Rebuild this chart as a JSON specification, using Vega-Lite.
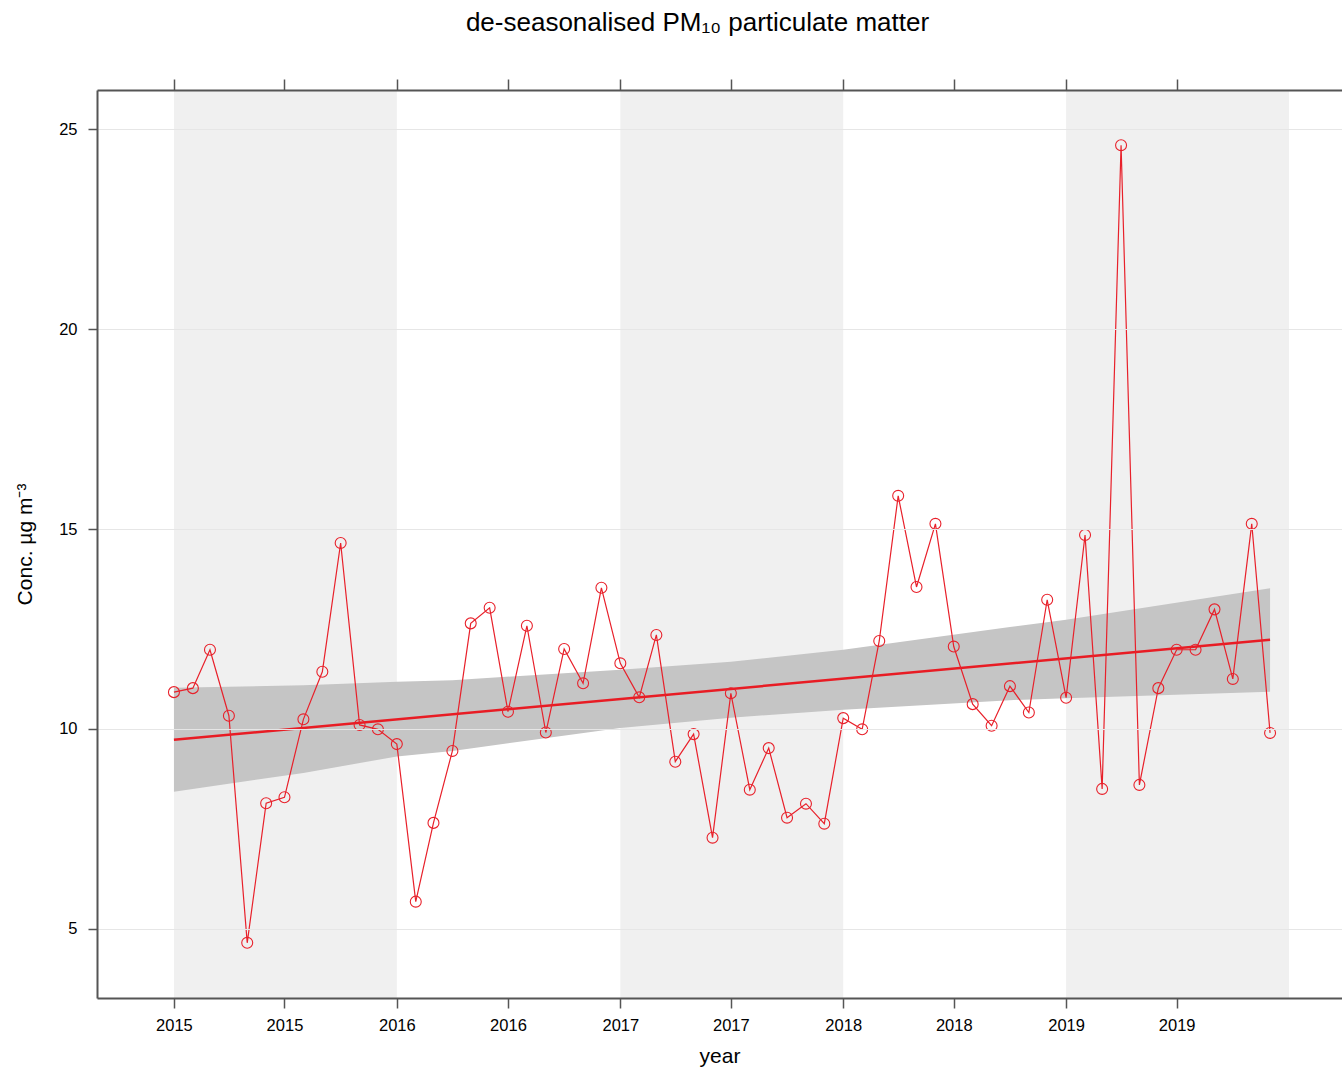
{
  "$schema": "https://vega.github.io/schema/vega-lite/v6.json",
  "width": 1245,
  "height": 908,
  "autosize": {"type": "none"},
  "padding": {"left": 97, "top": 90, "right": 0, "bottom": 74},
  "background": "white",
  "title": {
    "text": "de-seasonalised PM₁₀ particulate matter",
    "fontSize": 26,
    "fontWeight": "normal",
    "color": "#000000",
    "anchor": "middle",
    "dx": -22,
    "offset": 42
  },
  "config": {
    "font": "Liberation Sans",
    "view": {"stroke": null}
  },
  "datasets": {
    "bands": [
      {"start": "2015-01-01", "end": "2016-01-01"},
      {"start": "2017-01-01", "end": "2018-01-01"},
      {"start": "2019-01-01", "end": "2020-01-01"}
    ],
    "ci": [
      {"date": "2015-01-01", "upper": 11.03, "lower": 8.43},
      {"date": "2015-08-01", "upper": 11.09, "lower": 8.9},
      {"date": "2016-01-01", "upper": 11.18, "lower": 9.31},
      {"date": "2016-04-01", "upper": 11.22, "lower": 9.45},
      {"date": "2017-01-01", "upper": 11.48, "lower": 10.02},
      {"date": "2017-07-01", "upper": 11.68, "lower": 10.28},
      {"date": "2018-01-01", "upper": 11.98, "lower": 10.48},
      {"date": "2018-10-01", "upper": 12.55, "lower": 10.72},
      {"date": "2019-01-01", "upper": 12.73, "lower": 10.77},
      {"date": "2019-12-01", "upper": 13.52, "lower": 10.93}
    ],
    "trend": [
      {"date": "2015-01-01", "trend": 9.73},
      {"date": "2019-12-01", "trend": 12.23}
    ],
    "obs": [
      {"date": "2015-01-01", "conc": 10.92},
      {"date": "2015-02-01", "conc": 11.02},
      {"date": "2015-03-01", "conc": 11.98},
      {"date": "2015-04-01", "conc": 10.33},
      {"date": "2015-05-01", "conc": 4.65},
      {"date": "2015-06-01", "conc": 8.14},
      {"date": "2015-07-01", "conc": 8.29},
      {"date": "2015-08-01", "conc": 10.24},
      {"date": "2015-09-01", "conc": 11.43},
      {"date": "2015-10-01", "conc": 14.65},
      {"date": "2015-11-01", "conc": 10.1},
      {"date": "2015-12-01", "conc": 9.99},
      {"date": "2016-01-01", "conc": 9.62},
      {"date": "2016-02-01", "conc": 5.68},
      {"date": "2016-03-01", "conc": 7.65},
      {"date": "2016-04-01", "conc": 9.45},
      {"date": "2016-05-01", "conc": 12.64},
      {"date": "2016-06-01", "conc": 13.03},
      {"date": "2016-07-01", "conc": 10.43},
      {"date": "2016-08-01", "conc": 12.58},
      {"date": "2016-09-01", "conc": 9.91},
      {"date": "2016-10-01", "conc": 12.0},
      {"date": "2016-11-01", "conc": 11.14},
      {"date": "2016-12-01", "conc": 13.53},
      {"date": "2017-01-01", "conc": 11.64},
      {"date": "2017-02-01", "conc": 10.79},
      {"date": "2017-03-01", "conc": 12.35},
      {"date": "2017-04-01", "conc": 9.18},
      {"date": "2017-05-01", "conc": 9.87},
      {"date": "2017-06-01", "conc": 7.28},
      {"date": "2017-07-01", "conc": 10.89},
      {"date": "2017-08-01", "conc": 8.48},
      {"date": "2017-09-01", "conc": 9.52},
      {"date": "2017-10-01", "conc": 7.78},
      {"date": "2017-11-01", "conc": 8.13},
      {"date": "2017-12-01", "conc": 7.63},
      {"date": "2018-01-01", "conc": 10.27},
      {"date": "2018-02-01", "conc": 9.99},
      {"date": "2018-03-01", "conc": 12.2},
      {"date": "2018-04-01", "conc": 15.83},
      {"date": "2018-05-01", "conc": 13.55},
      {"date": "2018-06-01", "conc": 15.13},
      {"date": "2018-07-01", "conc": 12.06},
      {"date": "2018-08-01", "conc": 10.62},
      {"date": "2018-09-01", "conc": 10.08},
      {"date": "2018-10-01", "conc": 11.07},
      {"date": "2018-11-01", "conc": 10.41},
      {"date": "2018-12-01", "conc": 13.23},
      {"date": "2019-01-01", "conc": 10.78},
      {"date": "2019-02-01", "conc": 14.85},
      {"date": "2019-03-01", "conc": 8.5},
      {"date": "2019-04-01", "conc": 24.6},
      {"date": "2019-05-01", "conc": 8.6},
      {"date": "2019-06-01", "conc": 11.02},
      {"date": "2019-07-01", "conc": 11.98},
      {"date": "2019-08-01", "conc": 11.98},
      {"date": "2019-09-01", "conc": 12.99},
      {"date": "2019-10-01", "conc": 11.25},
      {"date": "2019-11-01", "conc": 15.13},
      {"date": "2019-12-01", "conc": 9.9}
    ]
  },
  "resolve": {"axis": {"y": "independent"}},
  "layer": [
    {
      "data": {"name": "bands"},
      "mark": {"type": "rect", "color": "#f0f0f0"},
      "encoding": {
        "x": {
          "field": "start",
          "type": "temporal",
          "scale": {"domain": [{"year": 2014, "month": 8, "date": 28}, {"year": 2020, "month": 3, "date": 27, "hours": 19}]},
          "axis": {
            "orient": "bottom",
            "values": [
              {"year": 2015, "month": 1, "date": 1}, {"year": 2015, "month": 7, "date": 1},
              {"year": 2016, "month": 1, "date": 1}, {"year": 2016, "month": 7, "date": 1},
              {"year": 2017, "month": 1, "date": 1}, {"year": 2017, "month": 7, "date": 1},
              {"year": 2018, "month": 1, "date": 1}, {"year": 2018, "month": 7, "date": 1},
              {"year": 2019, "month": 1, "date": 1}, {"year": 2019, "month": 7, "date": 1}
            ],
            "format": "%Y",
            "grid": false,
            "domain": true,
            "domainColor": "#555555",
            "domainWidth": 2,
            "tickSize": 10,
            "tickColor": "#555555",
            "tickWidth": 1.5,
            "labelFontSize": 16.5,
            "labelPadding": 9,
            "labelColor": "#000000",
            "labelFlush": false,
            "labelOverlap": false,
            "title": "year",
            "titleFontSize": 21,
            "titleFontWeight": "normal",
            "titleColor": "#000000",
            "titlePadding": 12,
            "zindex": 1
          }
        },
        "x2": {"field": "end"}
      }
    },
    {
      "data": {"name": "ci"},
      "mark": {"type": "area", "color": "#c5c5c5", "opacity": 1},
      "encoding": {
        "x": {
          "field": "date",
          "type": "temporal",
          "scale": {"domain": [{"year": 2014, "month": 8, "date": 28}, {"year": 2020, "month": 3, "date": 27, "hours": 19}]},
          "axis": null
        },
        "y": {
          "field": "upper",
          "type": "quantitative",
          "scale": {"domain": [3.27, 25.98], "nice": false, "zero": false},
          "axis": {
            "orient": "left",
            "values": [5, 10, 15, 20, 25],
            "grid": true,
            "gridColor": "#e6e6e6",
            "gridWidth": 1,
            "domain": true,
            "domainColor": "#555555",
            "domainWidth": 2,
            "tickSize": 9,
            "tickColor": "#555555",
            "tickWidth": 1.5,
            "labelFontSize": 16.5,
            "labelPadding": 11,
            "labelColor": "#000000",
            "title": "Conc. µg m⁻³",
            "titleFontSize": 21,
            "titleFontWeight": "normal",
            "titleColor": "#000000",
            "titlePadding": 23,
            "zindex": 1
          }
        },
        "y2": {"field": "lower"}
      }
    },
    {
      "data": {"name": "trend"},
      "mark": {"type": "line", "color": "#e81c24", "strokeWidth": 2.5},
      "encoding": {
        "x": {
          "field": "date",
          "type": "temporal",
          "scale": {"domain": [{"year": 2014, "month": 8, "date": 28}, {"year": 2020, "month": 3, "date": 27, "hours": 19}]},
          "axis": {
            "orient": "top",
            "values": [
              {"year": 2015, "month": 1, "date": 1}, {"year": 2015, "month": 7, "date": 1},
              {"year": 2016, "month": 1, "date": 1}, {"year": 2016, "month": 7, "date": 1},
              {"year": 2017, "month": 1, "date": 1}, {"year": 2017, "month": 7, "date": 1},
              {"year": 2018, "month": 1, "date": 1}, {"year": 2018, "month": 7, "date": 1},
              {"year": 2019, "month": 1, "date": 1}, {"year": 2019, "month": 7, "date": 1}
            ],
            "labels": false,
            "grid": false,
            "domain": true,
            "domainColor": "#555555",
            "domainWidth": 2,
            "tickSize": 11,
            "tickColor": "#555555",
            "tickWidth": 1.5,
            "title": null,
            "zindex": 1
          }
        },
        "y": {
          "field": "trend",
          "type": "quantitative",
          "scale": {"domain": [3.27, 25.98], "nice": false, "zero": false},
          "axis": null
        }
      }
    },
    {
      "data": {"name": "obs"},
      "mark": {"type": "line", "color": "#e8202a", "strokeWidth": 1.2},
      "encoding": {
        "x": {
          "field": "date",
          "type": "temporal",
          "scale": {"domain": [{"year": 2014, "month": 8, "date": 28}, {"year": 2020, "month": 3, "date": 27, "hours": 19}]},
          "axis": null
        },
        "y": {
          "field": "conc",
          "type": "quantitative",
          "scale": {"domain": [3.27, 25.98], "nice": false, "zero": false},
          "axis": null
        }
      }
    },
    {
      "data": {"name": "obs"},
      "mark": {"type": "point", "shape": "circle", "filled": false, "color": "#e8202a", "size": 120, "strokeWidth": 1.1, "opacity": 1},
      "encoding": {
        "x": {
          "field": "date",
          "type": "temporal",
          "scale": {"domain": [{"year": 2014, "month": 8, "date": 28}, {"year": 2020, "month": 3, "date": 27, "hours": 19}]},
          "axis": null
        },
        "y": {
          "field": "conc",
          "type": "quantitative",
          "scale": {"domain": [3.27, 25.98], "nice": false, "zero": false},
          "axis": null
        }
      }
    }
  ]
}
